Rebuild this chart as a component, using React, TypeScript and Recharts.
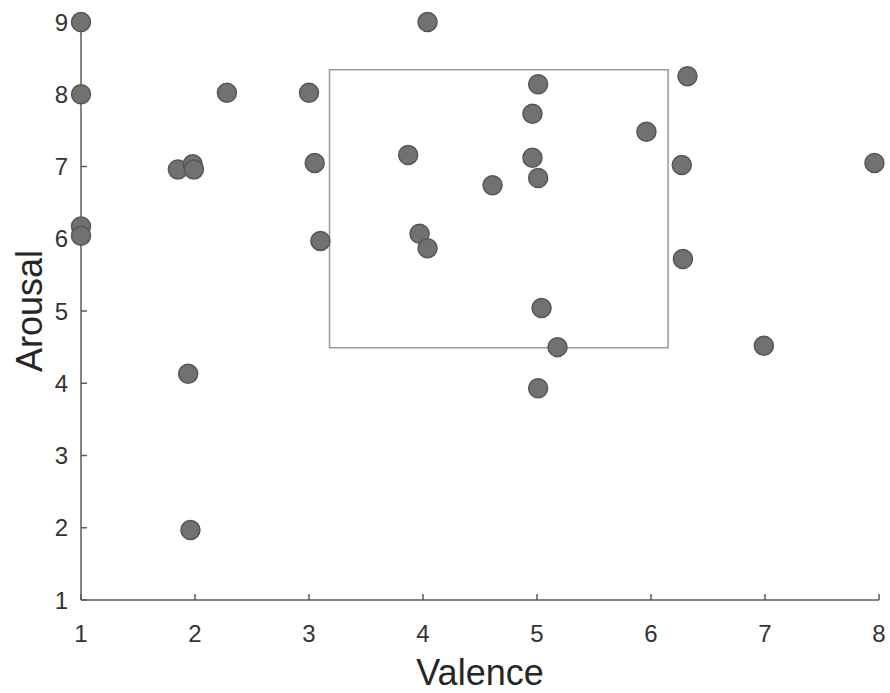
import React from 'react';
import { ScatterChart, Scatter, XAxis, YAxis, ReferenceArea } from 'recharts';

// valence / arousal pairs
const valence = [1, 1, 1, 1, 1.85, 1.98, 1.99, 2.28, 1.94, 1.96, 3.0, 3.05, 3.1, 4.04, 3.87, 3.97, 4.04, 4.61, 5.01, 4.96, 4.96, 5.01, 5.04, 5.18, 5.96, 6.32, 6.27, 6.28, 5.01, 6.99, 7.96];
const arousal = [9, 8, 6.17, 6.04, 6.96, 7.03, 6.96, 8.02, 4.13, 1.97, 8.02, 7.05, 5.97, 9, 7.16, 6.07, 5.87, 6.74, 8.14, 7.73, 7.12, 6.84, 5.04, 4.5, 7.48, 8.25, 7.02, 5.72, 3.93, 4.52, 7.05];

const xTicks = [1, 2, 3, 4, 5, 6, 7, 8];
const yTicks = [1, 2, 3, 4, 5, 6, 7, 8, 9];

// the grey box drawn in the middle
const boxValence = [3.18, 6.15];
const boxArousal = [4.49, 8.34];

const points = valence.map((v, i) => ({ x: v, y: arousal[i] }));

const FONT = 'Liberation Sans, Arial, sans-serif';
const AXIS = '#5a5a5a';

const YLabel = ({ viewBox }: any) => (
  <text
    x={viewBox.x + 42}
    y={viewBox.y + viewBox.height / 2}
    transform={`rotate(-90, ${viewBox.x + 42}, ${viewBox.y + viewBox.height / 2})`}
    textAnchor="middle"
    fontSize={36}
    fontFamily={FONT}
    fill="#262626"
  >
    Arousal
  </text>
);

const XLabel = ({ viewBox }: any) => (
  <text
    x={viewBox.x + viewBox.width / 2}
    y={viewBox.y + 85}
    textAnchor="middle"
    fontSize={36}
    fontFamily={FONT}
    fill="#262626"
  >
    Valence
  </text>
);

const App = () => {
  return (
    <div style={{ position: 'absolute', top: 0, left: 0, background: '#fff' }}>
      <ScatterChart width={890} height={693} margin={{ top: 22, right: 11, bottom: 0, left: 0 }}>
        <XAxis
          type="number"
          dataKey="x"
          domain={[1, 8]}
          ticks={xTicks}
          interval={0}
          height={93}
          tickSize={-6}
          tickMargin={31}
          axisLine={{ stroke: AXIS, strokeWidth: 1.5 }}
          tickLine={{ stroke: AXIS, strokeWidth: 1.5 }}
          tick={{ fontSize: 24, fontFamily: FONT, fill: '#333' }}
          label={<XLabel />}
        />
        <YAxis
          type="number"
          dataKey="y"
          domain={[1, 9]}
          ticks={yTicks}
          interval={0}
          width={81}
          tickSize={-6}
          tickMargin={19}
          axisLine={{ stroke: AXIS, strokeWidth: 1.5 }}
          tickLine={{ stroke: AXIS, strokeWidth: 1.5 }}
          tick={{ fontSize: 24, fontFamily: FONT, fill: '#333' }}
          label={<YLabel />}
        />
        <ReferenceArea
          x1={boxValence[0]}
          x2={boxValence[1]}
          y1={boxArousal[0]}
          y2={boxArousal[1]}
          fill="none"
          fillOpacity={0}
          stroke="#999"
          strokeWidth={1.5}
          ifOverflow="visible"
        />
        <Scatter
          data={points}
          fill="#717171"
          stroke="#575757"
          strokeWidth={1.5}
          isAnimationActive={false}
          shape={(p: any) => <circle cx={p.cx} cy={p.cy} r={9.5} fill="#717171" stroke="#575757" strokeWidth={1.5} />}
        />
      </ScatterChart>
    </div>
  );
};

export default App;
